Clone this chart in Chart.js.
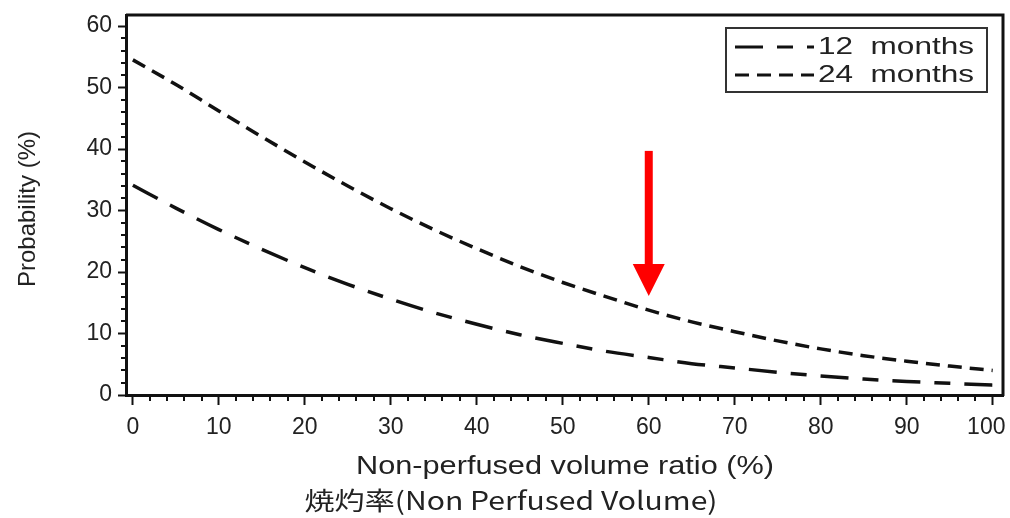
<!DOCTYPE html>
<html>
<head>
<meta charset="utf-8">
<script src="https://cdn.jsdelivr.net/npm/chart.js@4.4.1/dist/chart.umd.min.js"></script>
<style>
  html, body { margin: 0; padding: 0; background: #fff; }
  #wrap { width: 1010px; height: 518px; }
</style>
</head>
<body>
<div id="wrap"><canvas id="myChart" width="1010" height="518"></canvas></div>
<script>
// values
const ratio = [0, 5, 10, 15, 20, 25, 30, 35, 40, 45, 50, 55, 60, 65, 70, 75, 80, 85, 90, 95, 100]
const months12 = [34.1, 30.4, 26.9, 23.7, 20.7, 18.0, 15.6, 13.4, 11.5, 9.8, 8.4, 7.1, 6.1, 5.1, 4.4, 3.7, 3.1, 2.6, 2.2, 1.9, 1.6]
const months24 = [54.5, 50.5, 46.2, 42.0, 37.9, 34.0, 30.3, 26.9, 23.8, 20.9, 18.3, 16.0, 13.8, 11.9, 10.3, 8.8, 7.5, 6.4, 5.5, 4.7, 4.0]
const xTicks = [0, 10, 20, 30, 40, 50, 60, 70, 80, 90, 100]
const yTicks = [0, 10, 20, 30, 40, 50, 60]
const seriesNames = ['12 months', '24 months']
const arrowAt = 60

const dash12 = [28, 14, 16, 14]
const dash24 = [14, 8]
const ink = '#111'
const font = '"Liberation Sans", Arial, sans-serif'

const toPoints = (ys) => ratio.map((x, i) => ({ x: x, y: ys[i] }))

// text squeezed/stretched horizontally to a given width
function wideText(ctx, text, cx, cy, size, width, family) {
  ctx.save()
  ctx.font = size + 'px ' + family
  const w = ctx.measureText(text).width
  ctx.translate(cx, cy)
  ctx.scale(width / w, 1)
  ctx.textAlign = 'center'
  ctx.textBaseline = 'middle'
  ctx.fillText(text, 0, 0)
  ctx.restore()
}

const extras = {
  id: 'extras',
  afterDraw(chart) {
    const ctx = chart.ctx
    const { left, right, top, bottom } = chart.chartArea
    const xs = chart.scales.x
    const ys = chart.scales.y
    ctx.save()
    ctx.strokeStyle = ink
    ctx.fillStyle = '#222'

    // frame top and right
    ctx.lineWidth = 3
    ctx.beginPath()
    ctx.moveTo(left, top)
    ctx.lineTo(right, top)
    ctx.lineTo(right, bottom + 1)
    ctx.stroke()

    // minor ticks every 2
    ctx.lineWidth = 2
    ctx.beginPath()
    for (let v = 2; v < 100; v += 2) {
      if (v % 10 === 0) continue
      const px = Math.round(xs.getPixelForValue(v))
      ctx.moveTo(px, bottom)
      ctx.lineTo(px, bottom + 6)
    }
    for (let v = 2; v < 62; v += 2) {
      if (v % 10 === 0) continue
      const py = Math.round(ys.getPixelForValue(v))
      ctx.moveTo(left, py)
      ctx.lineTo(left - 5, py)
    }
    ctx.stroke()

    // red arrow
    const ax = xs.getPixelForValue(arrowAt)
    const tip = ys.getPixelForValue(16.1)
    const tail = ys.getPixelForValue(39.7)
    ctx.fillStyle = '#ff0000'
    ctx.fillRect(ax - 4, tail, 8, tip - 32 - tail + 1)
    ctx.beginPath()
    ctx.moveTo(ax - 16, tip - 32)
    ctx.lineTo(ax + 16, tip - 32)
    ctx.lineTo(ax, tip)
    ctx.closePath()
    ctx.fill()

    // legend
    ctx.strokeStyle = '#333'
    ctx.lineWidth = 2
    ctx.strokeRect(726, 28, 261, 64)
    const rows = [
      { y: 47, dash: dash12, off: 0 },
      { y: 75, dash: dash24, off: 0 },
    ]
    rows.forEach((r, i) => {
      ctx.strokeStyle = ink
      ctx.lineWidth = 3
      ctx.setLineDash(r.dash)
      ctx.lineDashOffset = r.off
      ctx.beginPath()
      ctx.moveTo(735, r.y)
      ctx.lineTo(814, r.y)
      ctx.stroke()
      ctx.setLineDash([])
      ctx.fillStyle = '#222'
      wideText(ctx, seriesNames[i].replace(' ', '  '), 896, r.y, 24, 156, font)
    })

    // axis titles
    ctx.fillStyle = '#222'
    wideText(ctx, 'Non-perfused volume ratio (%)', 565, 467, 25, 418, font)
    wideText(ctx, '焼灼率(Non Perfused Volume)', 511, 500, 25, 413, '"Noto Sans CJK JP", sans-serif')
    ctx.save()
    ctx.translate(28, 209)
    ctx.rotate(-Math.PI / 2)
    ctx.font = '24px ' + font
    ctx.textAlign = 'center'
    ctx.textBaseline = 'middle'
    ctx.fillText('Probability (%)', 0, 0)
    ctx.restore()

    ctx.restore()
  },
}

const ctx = document.getElementById('myChart').getContext('2d')
new Chart(ctx, {
  type: 'line',
  data: {
    datasets: [
      {
        label: seriesNames[0],
        data: toPoints(months12),
        borderColor: ink,
        borderWidth: 3.5,
        borderDash: dash12,
        pointRadius: 0,
        cubicInterpolationMode: 'monotone',
        fill: false,
      },
      {
        label: seriesNames[1],
        data: toPoints(months24),
        borderColor: ink,
        borderWidth: 3.5,
        borderDash: dash24,
        pointRadius: 0,
        cubicInterpolationMode: 'monotone',
        fill: false,
      },
    ],
  },
  options: {
    responsive: false,
    animation: false,
    layout: { padding: { top: 15, right: 7, left: 0, bottom: 0 } },
    plugins: { legend: { display: false }, tooltip: { enabled: false } },
    scales: {
      x: {
        type: 'linear',
        min: -0.8,
        max: 101.2,
        afterBuildTicks: (s) => { s.ticks = xTicks.map((v) => ({ value: v })) },
        afterFit: (s) => {
          s.height = 123
          s.paddingLeft = 0
          s.paddingRight = 0
        },
        grid: { drawOnChartArea: false, tickLength: 10, tickWidth: 2, color: ink },
        border: { width: 3, color: ink },
        ticks: {
          color: '#222',
          font: { size: 23, family: font },
          padding: 9,
          maxRotation: 0,
          autoSkip: false,
          // last label sits a little left of its tick in the reference
          callback: (v) => (v === 100 ? '100\u00a0\u00a0' : String(v)),
        },
      },
      y: {
        min: 0,
        max: 61.8,
        afterBuildTicks: (s) => { s.ticks = yTicks.map((v) => ({ value: v })) },
        afterFit: (s) => {
          s.width = 126
          s.paddingTop = 0
          s.paddingBottom = 0
        },
        grid: { drawOnChartArea: false, tickLength: 8, tickWidth: 2, color: ink },
        border: { width: 3, color: ink },
        ticks: { color: '#222', font: { size: 23, family: font }, padding: 6 },
      },
    },
  },
  plugins: [extras],
})
</script>
</body>
</html>
